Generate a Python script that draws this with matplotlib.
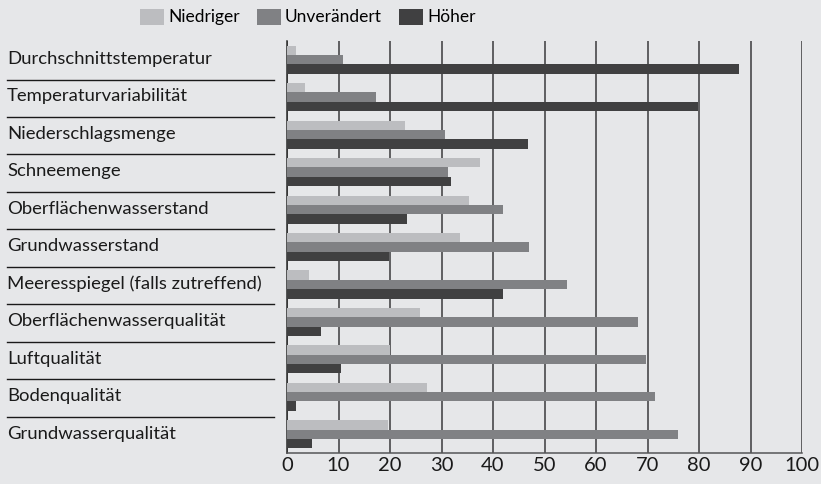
import numpy as np
import matplotlib.pyplot as plt
import matplotlib.transforms as mtransforms
from matplotlib.patches import Patch

# categories, top to bottom
categories = ['Durchschnittstemperatur', 'Temperaturvariabilität', 'Niederschlagsmenge',
              'Schneemenge', 'Oberflächenwasserstand', 'Grundwasserstand',
              'Meeresspiegel (falls zutreffend)', 'Oberflächenwasserqualität',
              'Luftqualität', 'Bodenqualität', 'Grundwasserqualität']

niedriger = [1.8, 3.5, 22.9, 37.5, 35.3, 33.6, 4.3, 25.8, 20.0, 27.2, 19.6]
unveraendert = [10.8, 17.3, 30.6, 31.2, 41.9, 47.0, 54.4, 68.1, 69.7, 71.5, 75.9]
hoeher = [87.8, 79.8, 46.8, 31.8, 23.3, 19.8, 41.9, 6.6, 10.5, 1.8, 4.8]

series_names = ['Niedriger', 'Unverändert', 'Höher']
xticks = [0, 10, 20, 30, 40, 50, 60, 70, 80, 90, 100]

bg = '#e6e7e9'
colors = ['#bcbdc0', '#808184', '#404041']

plt.rcParams['font.family'] = ['Lato', 'DejaVu Sans']

W, H = 821, 484
fig = plt.figure(figsize=(W / 100, H / 100), dpi=100, facecolor=bg)
ax = fig.add_axes([287 / W, (H - 453) / H, (802 - 287) / W, (453 - 41) / H], facecolor=bg)

y = np.arange(len(categories))
bh = 0.25
for k, vals in enumerate([niedriger, unveraendert, hoeher]):
    ax.barh(y + (k - 1) * bh, vals, height=bh, color=colors[k], zorder=3)

ax.set_xlim(0, 100)
ax.set_ylim(len(categories) - 0.5, -0.5)
ax.set_xticks(xticks)
ax.set_xticklabels([str(t) for t in xticks], fontsize=14.5, color='#1a1a1a')
ax.set_yticks([])
ax.tick_params(axis='x', length=0, pad=3)
for t in xticks:
    ax.axvline(t, color='#3a3a3c', lw=1.1, zorder=1)
for s in ['top', 'right']:
    ax.spines[s].set_visible(False)
ax.spines['left'].set_color('#2a2a2a')
ax.spines['left'].set_linewidth(1.1)
ax.spines['bottom'].set_color('#555557')
ax.spines['bottom'].set_linewidth(1.1)

# category labels and separator lines on the left
trans = mtransforms.blended_transform_factory(fig.transFigure, ax.transData)
for i, name in enumerate(categories):
    fig.text(7 / W, i - 0.02, name, transform=trans, ha='left', va='center',
             fontsize=13.3, color='#1a1a1a')
for i in range(len(categories) - 1):
    ax.plot([7 / W, 274 / W], [i + 0.53, i + 0.53], transform=trans,
            color='#1a1a1a', lw=1.0, clip_on=False)

handles = [Patch(facecolor=c, edgecolor='none') for c in colors]
fig.legend(handles, series_names, loc='center', bbox_to_anchor=(308 / W, 1 - 17 / H),
           ncol=3, frameon=False, fontsize=12.5,
           handlelength=1.35, handleheight=1.05,
           handletextpad=0.25, columnspacing=1.0, borderpad=0)

fig.savefig('out.png', dpi=100, facecolor=bg)
